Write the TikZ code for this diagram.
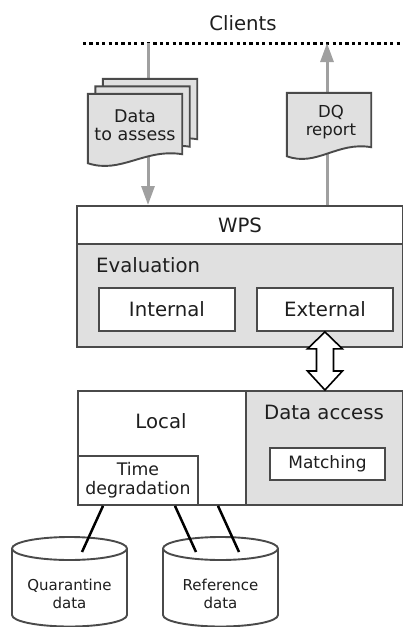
\documentclass[tikz,border=0pt]{standalone}
\usepackage{fontspec}
\setmainfont{DejaVu Sans}
\usetikzlibrary{calc,arrows.meta}
\definecolor{bcol}{HTML}{4A4A4A}
\definecolor{gfill}{HTML}{E0E0E0}
\definecolor{acol}{HTML}{A0A0A0}
\definecolor{tcol}{HTML}{1E1E1E}
\newcommand\bigf{\fontsize{19.7pt}{23pt}\selectfont}
\newcommand\docf{\fontsize{17.5pt}{18.5pt}\selectfont}
\newcommand\dqf{\fontsize{16.5pt}{17.5pt}\selectfont}
\newcommand\tdf{\fontsize{17.3pt}{19pt}\selectfont}
\newcommand\matf{\fontsize{17pt}{19pt}\selectfont}
\newcommand\cylf{\fontsize{15pt}{18pt}\selectfont}
\newcommand\docshape[2]{\path[#2] (#1.north west) -- (#1.north east) -- (#1.south east)
  .. controls ($(#1.south west)!0.6!(#1.south east)+(0,-6)$) and ($(#1.south west)!0.35!(#1.south east)+(0,20)$)
  .. ($(#1.south west)+(0,9)$) -- cycle;}
\newcommand\cylshape[3]{%
  \filldraw[cylst] (#1-57.5,#2) -- (#1-57.5,#3)
    arc[start angle=180,end angle=360,x radius=57.5pt,y radius=11.5pt]
    -- (#1+57.5,#2)
    arc[start angle=0,end angle=180,x radius=57.5pt,y radius=11.5pt] -- cycle;
  \draw[cylst] (#1-57.5,#2) arc[start angle=180,end angle=360,x radius=57.5pt,y radius=11.5pt];}
\begin{document}
\begin{tikzpicture}[x=1pt,y=-1pt,text=tcol,
  box/.style={draw=bcol,line width=1.9pt,inner sep=0pt,anchor=north west},
  docnode/.style={inner sep=0pt,draw=none},
  docst/.style={draw=bcol,fill=gfill,line width=1.9pt},
  garrow/.style={draw=acol,line width=3pt,-{Triangle[length=19pt,width=13pt]}},
  dotline/.style={line width=3pt,dash pattern=on 3.2pt off 3.2pt,black},
  dline/.style={line width=2.5pt,black},
  cylst/.style={draw=bcol,fill=white,line width=1.9pt},
  dblarrow/.style={draw=black,fill=white,line width=1.6pt,line join=miter}]
\useasboundingbox (0,0) rectangle (403,627);

% clients
\node[font=\bigf] (clients) at (243,23) {Clients};
\coordinate (dl) at (83,43);
\coordinate (dr) at (403,43);
\draw[dotline] (dl) -- (dr);

% WPS
\node[box,fill=gfill,minimum width=326pt,minimum height=141pt] (wps) at (76,205) {};
\node[box,fill=white,minimum width=326pt,minimum height=38pt,font=\bigf] (wpsh) at (76,205) {WPS};
\node[anchor=west,inner sep=0pt,font=\bigf] (eval) at (96,265) {Evaluation};
\node[box,fill=white,minimum width=136pt,minimum height=43pt,font=\bigf] (int) at (98,287) {Internal};
\node[box,fill=white,minimum width=136pt,minimum height=43pt,font=\bigf] (ext) at (256,287) {External};

% arrows to/from clients
\coordinate (inA) at (148,43);
\coordinate (outA) at (327,43);
\draw[garrow] (inA) -- (inA |- wps.north);
\draw[garrow] (outA |- wps.north) -- (outA);

% data to assess (stacked documents)
\node[docnode,minimum width=94pt,minimum height=60pt] (docA3) at (150,109) {};
\docshape{docA3}{docst}
\node[docnode,minimum width=94pt,minimum height=60pt] (docA2) at (142.5,116.5) {};
\docshape{docA2}{docst}
\node[docnode,minimum width=94pt,minimum height=60pt] (docAbox) at (135,124) {};
\docshape{docAbox}{docst}
\node[align=center,font=\docf,inner sep=0pt] (docA) at (135,125) {Data\\to assess};

% DQ report
\node[docnode,minimum width=84pt,minimum height=54pt] (dqbox) at (329,120) {};
\docshape{dqbox}{docst}
\node[align=center,font=\dqf,inner sep=0pt] (dq) at (331,122) {DQ\\report};

% bottom block
\node[box,fill=white,minimum width=168pt,minimum height=114pt] (loc) at (77,390) {};
\node[box,fill=gfill,minimum width=157pt,minimum height=114pt] (da) at (245,390) {};
\node[font=\bigf] (loclab) at (161,421) {Local};
\node[font=\bigf] (dalab) at (324,412) {Data access};
\node[box,fill=white,minimum width=120pt,minimum height=49pt,font=\tdf,align=center] (tdeg) at (77,455) {Time\\degradation};
\node[box,fill=white,minimum width=115pt,minimum height=32pt,font=\matf] (match) at (269,447) {Matching};

% double arrow
\coordinate (dt) at (ext.south);
\coordinate (db) at (ext.south |- loc.north);
\draw[dblarrow] (dt) -- ($(dt)+(17.5,17)$) -- ($(dt)+(8.5,17)$) -- ($(db)+(8.5,-19)$)
  -- ($(db)+(17.5,-19)$) -- (db) -- ($(db)+(-17.5,-19)$) -- ($(db)+(-8.5,-19)$)
  -- ($(dt)+(-8.5,17)$) -- ($(dt)+(-17.5,17)$) -- cycle;

% cylinders
\cylshape{69.5}{548.5}{615}
\cylshape{220.5}{548.5}{615}
\node[align=center,font=\cylf,inner sep=0pt] (quar) at (69.5,594) {Quarantine\\data};
\node[align=center,font=\cylf,inner sep=0pt] (ref) at (220.5,594) {Reference\\data};
\coordinate (qa) at (82,552);
\coordinate (ra) at (196,552);
\coordinate (rb) at (239,552);

% connections
\draw[dline] ($(tdeg.south west)+(26,0)$) -- (qa);
\draw[dline] ($(tdeg.south west)+(98,0)$) -- (ra);
\draw[dline] ($(loc.south west)+(141,0)$) -- (rb);
\end{tikzpicture}
\end{document}
